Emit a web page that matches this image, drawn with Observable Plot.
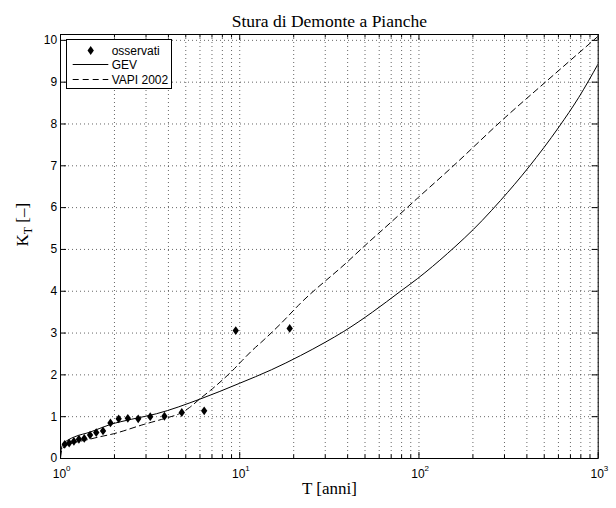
<!DOCTYPE html>
<html>
<head>
<meta charset="utf-8">
<script src="https://cdn.jsdelivr.net/npm/d3@7"></script>
<script src="https://cdn.jsdelivr.net/npm/@observablehq/plot@0.6"></script>
<style>
  html, body { margin: 0; padding: 0; background: #fff; }
  #chart svg { display: block; }
</style>
</head>
<body>
<div id="chart"></div>
<script>
// ---------- data ----------
const titleText = "Stura di Demonte a Pianche";
const xLabelText = "T [anni]";
const yLabelText = "K_T [–]";
const legendLabels = ["osservati", "GEV", "VAPI 2002"];

// observed values (Weibull plotting positions)
const obsT = [1.056, 1.118, 1.188, 1.267, 1.357, 1.462, 1.583, 1.727, 1.9, 2.111, 2.375, 2.714, 3.167, 3.8, 4.75, 6.333, 9.5, 19];
const obsK = [0.34, 0.37, 0.41, 0.46, 0.48, 0.56, 0.62, 0.66, 0.85, 0.95, 0.96, 0.95, 1.0, 1.01, 1.1, 1.14, 3.06, 3.11];

// GEV curve
const gevT = [1.001, 1.01, 1.035, 1.1, 1.2, 1.46, 1.885, 2.5, 3.43, 6.0, 10, 15, 21.8, 30, 38.1, 55, 78.9, 98, 144, 225, 285, 410, 604, 780, 1000];
const gevK = [0.10, 0.22, 0.35, 0.44, 0.52, 0.63, 0.81, 0.94, 1.07, 1.42, 1.80, 2.12, 2.46, 2.78, 3.04, 3.50, 4.00, 4.30, 4.90, 5.69, 6.17, 6.97, 7.93, 8.64, 9.44];

// VAPI 2002 curve
const vapiT = [1.001, 1.01, 1.03, 1.1, 1.25, 1.45, 1.62, 1.97, 2.89, 3.9, 4.6, 5.25, 6.0, 6.87, 7.97, 9.1, 10.3, 11.7, 13.5, 16.9, 21.8, 39.8, 49.3, 69.4, 97.8, 153, 298, 520, 1000];
const vapiK = [0.02, 0.14, 0.24, 0.33, 0.40, 0.46, 0.51, 0.59, 0.81, 0.97, 1.07, 1.22, 1.43, 1.63, 1.87, 2.10, 2.34, 2.58, 2.82, 3.22, 3.71, 4.70, 5.07, 5.64, 6.22, 6.97, 8.13, 9.04, 10.1];

// ticks
const xMajor = [1, 10, 100, 1000];
const xExp = ["0", "1", "2", "3"];
const xMinor = [2, 3, 4, 5, 6, 7, 8, 9, 20, 30, 40, 50, 60, 70, 80, 90, 200, 300, 400, 500, 600, 700, 800, 900];
const yTicks = [0, 1, 2, 3, 4, 5, 6, 7, 8, 9, 10];

// ---------- layout ----------
const W = 616, H = 508;
const mL = 60, mR = 18.3, mT = 34, mB = 50;
const fw = W - mL - mR, fh = H - mT - mB;
const serif = "'Liberation Serif','Times New Roman',Times,serif";
const sans = "'Liberation Sans',Arial,Helvetica,sans-serif";

const obs = obsT.map((t, i) => ({T: t, K: obsK[i]}));
const gev = gevT.map((t, i) => ({T: t, K: gevK[i]}));
const vapi = vapiT.map((t, i) => ({T: t, K: vapiK[i]}));

const tallDiamond = {
  draw(context, size) {
    const r = Math.sqrt(size / Math.PI);
    const w = r * 0.72, h = r;
    context.moveTo(0, -h);
    context.lineTo(w, 0);
    context.lineTo(0, h);
    context.lineTo(-w, 0);
    context.closePath();
  }
};

const gridStyle = {stroke: "#000", strokeOpacity: 0.6, strokeDasharray: "1,3", strokeWidth: 1};

const plot = Plot.plot({
  width: W, height: H,
  marginLeft: mL, marginRight: mR, marginTop: mT, marginBottom: mB,
  style: {background: "#fff", fontFamily: sans, fontSize: "12px", color: "#000", overflow: "visible"},
  x: {type: "log", domain: [1, 1000], axis: null},
  y: {domain: [0, 10.14], axis: null},
  marks: [
    // grid
    Plot.ruleX([...xMajor, ...xMinor], {x: d => d, ...gridStyle}),
    Plot.ruleY(yTicks, {y: d => d, ...gridStyle}),
    // tick marks (inward, on all four sides)
    Plot.tickX(xMajor, {x: d => d, insetTop: fh - 6, stroke: "#000"}),
    Plot.tickX(xMajor, {x: d => d, insetBottom: fh - 6, stroke: "#000"}),
    Plot.tickX(xMinor, {x: d => d, insetTop: fh - 3.5, stroke: "#000"}),
    Plot.tickX(xMinor, {x: d => d, insetBottom: fh - 3.5, stroke: "#000"}),
    Plot.tickY(yTicks, {y: d => d, insetRight: fw - 6, stroke: "#000"}),
    Plot.tickY(yTicks, {y: d => d, insetLeft: fw - 6, stroke: "#000"}),
    // y tick labels
    Plot.text(yTicks, {y: d => d, text: d => String(d), frameAnchor: "left", lineAnchor: "middle", textAnchor: "end", dx: -3.3, fontSize: 12, fontFamily: sans, fill: "#000"}),
    // x tick labels 10^n
    Plot.text(xMajor, {x: d => d, text: () => "10", frameAnchor: "bottom", lineAnchor: "middle", dx: -1, dy: 15.6, fontSize: 12, fontFamily: sans, fill: "#000"}),
    Plot.text(xMajor, {x: d => d, text: (d, i) => xExp[i], frameAnchor: "bottom", lineAnchor: "middle", textAnchor: "start", dx: 5.6, dy: 9.6, fontSize: 8, fontFamily: sans, fill: "#000"}),
    // curves
    Plot.line(gev, {x: "T", y: "K", stroke: "#000", strokeWidth: 1, curve: "monotone-x", clip: true}),
    Plot.line(vapi, {x: "T", y: "K", stroke: "#000", strokeWidth: 1, strokeDasharray: "6,4", curve: "monotone-x", clip: true}),
    // observations
    Plot.dot(obs, {x: "T", y: "K", symbol: tallDiamond, r: 4.4, fill: "#000", stroke: "none"}),
    // frame
    Plot.frame({stroke: "#000", strokeWidth: 1}),
    // title and labels
    Plot.text([titleText], {frameAnchor: "top", lineAnchor: "middle", dy: -13.6, fontFamily: serif, fontSize: 17.5, fill: "#000"}),
    Plot.text([xLabelText], {frameAnchor: "bottom", lineAnchor: "middle", dy: 29.6, fontFamily: serif, fontSize: 17, fill: "#000"}),
    Plot.text([yLabelText], {frameAnchor: "left", lineAnchor: "middle", rotate: -90, dx: -38.4, fontFamily: serif, fontSize: 17, fill: "#000"})
  ]
});

// subscript in the y label
d3.select(plot).selectAll("text").filter(function () { return this.textContent === yLabelText; })
  .each(function () {
    const t = d3.select(this);
    t.text(null);
    t.append("tspan").text("K");
    t.append("tspan").attr("font-size", 12).attr("dy", 4).text("T");
    t.append("tspan").attr("dy", -4).text(" [–]");
  });

// legend
const svg = d3.select(plot);
const lg = svg.append("g").attr("font-family", sans).attr("font-size", 12).attr("fill", "#000").attr("text-anchor", "start");
lg.append("rect").attr("x", 66.5).attr("y", 39.5).attr("width", 105).attr("height", 49)
  .attr("fill", "#fff").attr("stroke", "#000").attr("stroke-width", 1);
const rows = [50.5, 64.5, 79.5];
lg.append("path").attr("transform", `translate(90.7,${rows[0]})`)
  .attr("d", d3.symbol().type(tallDiamond).size(Math.PI * 4.4 * 4.4)()).attr("fill", "#000");
lg.append("line").attr("x1", 72.7).attr("x2", 108.3).attr("y1", rows[1]).attr("y2", rows[1]).attr("stroke", "#000");
lg.append("line").attr("x1", 72.7).attr("x2", 108.3).attr("y1", rows[2]).attr("y2", rows[2]).attr("stroke", "#000").attr("stroke-dasharray", "6,4");
legendLabels.forEach((s, i) => {
  lg.append("text").attr("x", 111.7).attr("y", rows[i]).attr("dy", "0.35em").attr("text-anchor", "start").text(s);
});

document.getElementById("chart").appendChild(plot);
</script>
</body>
</html>
